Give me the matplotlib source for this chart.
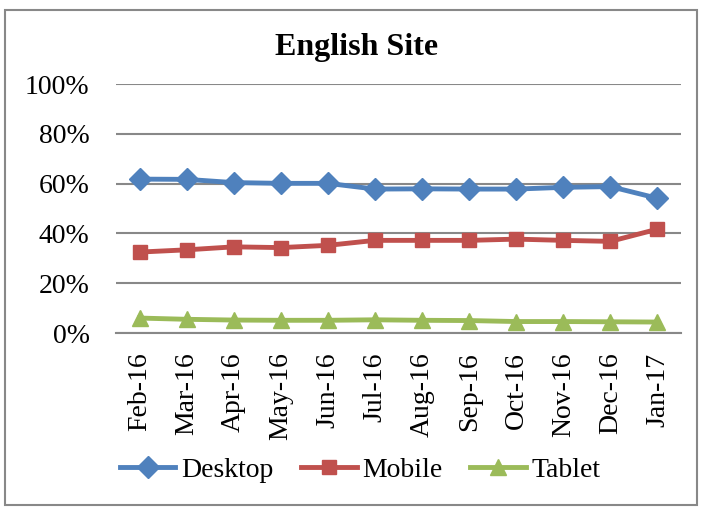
import matplotlib
matplotlib.use("Agg")
import matplotlib.pyplot as plt
from matplotlib.patches import Rectangle
from matplotlib.ticker import PercentFormatter

months = ["Feb-16", "Mar-16", "Apr-16", "May-16", "Jun-16", "Jul-16",
          "Aug-16", "Sep-16", "Oct-16", "Nov-16", "Dec-16", "Jan-17"]
desktop = [61.8, 61.7, 60.4, 60.1, 60.1, 57.8, 57.9, 57.8, 57.8, 58.5, 58.8, 54.1]
mobile = [32.5, 33.4, 34.6, 34.3, 35.2, 37.2, 37.2, 37.2, 37.7, 37.2, 36.8, 41.7]
tablet = [6.0, 5.5, 5.2, 5.1, 5.1, 5.3, 5.1, 5.0, 4.6, 4.6, 4.5, 4.4]

plt.rcParams["font.family"] = ["Liberation Serif", "DejaVu Serif"]

fig = plt.figure(figsize=(7.01, 5.11), dpi=100)
ax = fig.add_axes([116 / 701, 1 - 333 / 511, 565 / 701, 249 / 511])

x = range(len(months))
ax.plot(x, [v / 100 for v in desktop], color="#4F81BD", lw=3.5, marker="D",
        ms=11, label="Desktop")
ax.plot(x, [v / 100 for v in mobile], color="#C0504D", lw=3.5, marker="s",
        ms=10, label="Mobile")
ax.plot(x, [v / 100 for v in tablet], color="#9BBB59", lw=3.5, marker="^",
        ms=12, label="Tablet")

ax.set_xlim(-0.5, len(months) - 0.5)
ax.set_ylim(0, 1)
ax.set_yticks([0, 0.2, 0.4, 0.6, 0.8, 1.0])
ax.yaxis.set_major_formatter(PercentFormatter(1.0, decimals=0))
ax.set_xticks(list(x))
ax.set_xticklabels(months, rotation=90)
ax.tick_params(axis="both", length=0, labelsize=20)
ax.tick_params(axis="y", pad=19)
ax.tick_params(axis="x", pad=14)
ax.grid(axis="y", color="#888888", lw=1.5)
ax.set_axisbelow(True)
for s in ["left", "right", "top"]:
    ax.spines[s].set_visible(False)
ax.spines["bottom"].set_color("#888888")
ax.spines["bottom"].set_linewidth(1.5)

fig.text(357 / 701, 1 - 47 / 511, "English Site", ha="center", va="center",
         fontsize=23, fontweight="bold")

fig.legend(loc="center", bbox_to_anchor=(360 / 701, 1 - 470 / 511), ncol=3,
           frameon=False, fontsize=20, handlelength=2.0, handletextpad=0.2,
           columnspacing=1.0)

fig.patches.append(Rectangle((5 / 701, 1 - 505 / 511), 692 / 701, 495 / 511,
                             transform=fig.transFigure, fill=False,
                             edgecolor="#888888", lw=1.5))

fig.savefig("out.png", dpi=100)
